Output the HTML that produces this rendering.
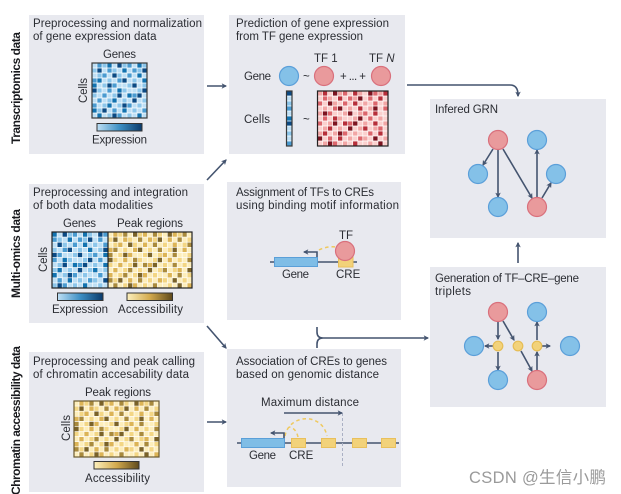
<!DOCTYPE html>
<html>
<head>
<meta charset="utf-8">
<style>
html,body{margin:0;padding:0;background:#fff;width:621px;height:494px;overflow:hidden}
svg{display:block}
text{font-family:"Liberation Sans","Noto Sans CJK SC",sans-serif;font-size:11.5px;fill:#2b2d33}
.b{font-weight:bold;font-size:12px;fill:#17181c}
.l{stroke:#44546f;stroke-width:1.6;fill:none}
.a{stroke:#44546f;stroke-width:1.6;fill:none;marker-end:url(#m)}
.d{stroke:#efc95f;stroke-width:1.5;fill:none;stroke-dasharray:3.5 3}
.cb{fill:#84c1e8;stroke:#5b9fd9;stroke-width:1.2}
.cr{fill:#e99a9c;stroke:#d9707c;stroke-width:1.2}
.cy{fill:#f2d27a;stroke:#e6bd55;stroke-width:1.2}
.h{fill:none}
</style>
</head>
<body>
<svg xmlns="http://www.w3.org/2000/svg" width="621" height="494" viewBox="0 0 621 494">
<defs>
<marker id="m" viewBox="0 0 10 10" refX="8" refY="5" markerWidth="5.500" markerHeight="5.500" orient="auto" markerUnits="userSpaceOnUse"><path d="M0 0L10 5L0 10L2.500 5Z" fill="#44546f"/></marker>
<linearGradient id="gb"><stop offset="0" stop-color="#bfe0f5"/><stop offset=".5" stop-color="#3d8fc4"/><stop offset="1" stop-color="#0a3a6b"/></linearGradient>
<linearGradient id="gy"><stop offset="0" stop-color="#fdf0bd"/><stop offset=".5" stop-color="#d3aa4e"/><stop offset="1" stop-color="#5f4a1c"/></linearGradient>
<path id="L1" fill="none" stroke-width="1" d="M2 .5h1M6 .5h1M10 .5h1M14 .5h1M0 1.500h1M4 1.500h1M9 1.500h1M16 1.500h1M1 2.500h1M5 2.500h1M11 2.500h1M15 2.500h1M3 3.500h1M8 3.500h1M12 3.500h1M2 4.500h1M7 4.500h1M10 4.500h1M16 4.500h1M1 5.500h1M6 5.500h1M9 5.500h1M14 5.500h1M0 6.500h1M4 6.500h1M11 6.500h1M15 6.500h1M3 7.500h1M6 7.500h1M10 7.500h1M13 7.500h1M2 8.500h1M5 8.500h1M9 8.500h1M16 8.500h1M1 9.500h1M8 9.500h1M11 9.500h1M15 9.500h1M3 10.500h1M7 10.500h1M12 10.500h1"/>
<path id="L2" fill="none" stroke-width="1" d="M1 .5h1M7 .5h1M13 .5h1M3 1.500h1M8 1.500h1M12 1.500h1M2 2.500h1M7 2.500h1M13 2.500h1M0 3.500h1M5 3.500h1M15 3.500h1M4 4.500h1M11 4.500h1M3 5.500h1M12 5.500h1M2 6.500h1M8 6.500h1M1 7.500h1M14 7.500h1M0 8.500h1M7 8.500h1M12 8.500h1M4 9.500h1M10 9.500h1M5 10.500h1M16 10.500h1"/>
<path id="L3" fill="none" stroke-width="1" d="M3 .5h1M9 .5h1M15 .5h1M6 1.500h1M14 1.500h1M9 2.500h1M16 2.500h1M1 3.500h1M10 3.500h1M0 4.500h1M13 4.500h1M5 5.500h1M16 5.500h1M7 6.500h1M13 6.500h1M4 7.500h1M11 7.500h1M3 8.500h1M14 8.500h1M0 9.500h1M6 9.500h1M1 10.500h1M9 10.500h1"/>
<path id="L4" fill="none" stroke-width="1" d="M5 .5h1M12 .5h1M1 1.500h1M10 1.500h1M4 2.500h1M6 3.500h1M13 3.500h1M3 4.500h1M8 4.500h1M0 5.500h1M10 5.500h1M5 6.500h1M9 6.500h1M8 7.500h1M16 7.500h1M6 8.500h1M2 9.500h1M13 9.500h1M4 10.500h1M14 10.500h1"/>
<path id="G" fill="none" stroke="#fff" stroke-width=".13" d="M1 0V11M2 0V11M3 0V11M4 0V11M5 0V11M6 0V11M7 0V11M8 0V11M9 0V11M10 0V11M11 0V11M12 0V11M13 0V11M14 0V11M15 0V11M16 0V11M0 1H17M0 2H17M0 3H17M0 4H17M0 5H17M0 6H17M0 7H17M0 8H17M0 9H17M0 10H17"/>
<g id="HB"><rect width="17" height="11" fill="#bfe0f5"/><use href="#L1" stroke="#8cc6ea"/><use href="#L2" stroke="#4a9bd0"/><use href="#L3" stroke="#1273b0"/><use href="#L4" stroke="#0b4a84"/><use href="#G"/></g>
<g id="HY"><rect width="17" height="11" fill="#fdeebb"/><use href="#L1" stroke="#f3d684"/><use href="#L2" stroke="#dcb456"/><use href="#L3" stroke="#a98a3c"/><use href="#L4" stroke="#7a6228"/><use href="#G"/></g>
<g id="HR"><rect width="17" height="11" fill="#fbd0ce"/><use href="#L1" stroke="#f2a6a5"/><use href="#L2" stroke="#dc666c"/><use href="#L3" stroke="#b72f3a"/><use href="#L4" stroke="#7c1420"/><use href="#G"/></g>
</defs>

<g fill="#e8e9ef">
<rect x="29" y="15" width="175" height="139"/>
<rect x="229" y="15" width="176" height="139"/>
<rect x="430" y="99" width="176" height="139"/>
<rect x="29" y="184" width="175" height="139"/>
<rect x="227" y="182" width="174" height="138"/>
<rect x="430" y="267" width="176" height="140"/>
<rect x="29" y="352" width="175" height="140"/>
<rect x="227" y="349" width="174" height="138"/>
</g>

<svg x="92" y="63" width="55" height="55" viewBox="0 0 11 11" preserveAspectRatio="none"><use href="#HB"/></svg>
<svg x="286.500" y="91" width="5.500" height="55" viewBox="5 0 1 11" preserveAspectRatio="none"><use href="#HB"/></svg>
<svg x="317.500" y="91" width="70.500" height="55" viewBox="2 0 14 11" preserveAspectRatio="none"><use href="#HR"/></svg>
<svg x="52" y="232" width="56" height="56" viewBox="3 0 11 11" preserveAspectRatio="none"><use href="#HB"/></svg>
<svg x="108" y="232" width="84" height="56" viewBox="0 0 17 11" preserveAspectRatio="none"><use href="#HY"/></svg>
<svg x="74" y="401" width="85" height="56" viewBox="0 0 17 11" preserveAspectRatio="none"><use href="#HY"/></svg>

<g fill="none" stroke="#3a3a3a" stroke-width="1.200">
<rect x="92" y="63" width="55" height="55"/>
<rect x="286.500" y="91" width="5.500" height="55"/>
<rect x="317.500" y="91" width="70.500" height="55" stroke="#222"/>
<rect x="52" y="232" width="140" height="56" stroke="#222"/>
<line x1="108" y1="232" x2="108" y2="288" stroke="#222"/>
<rect x="74" y="401" width="85" height="56" stroke="#6b5a30"/>
</g>
<g stroke="#333" stroke-width="1">
<rect x="97" y="123.500" width="45" height="7.500" fill="url(#gb)"/>
<rect x="57.500" y="293" width="45.500" height="7.500" fill="url(#gb)"/>
<rect x="127" y="293" width="45.500" height="7.500" fill="url(#gy)"/>
<rect x="94" y="461.500" width="45" height="7.500" fill="url(#gy)"/>
</g>

<!-- side labels -->
<text class="b" transform="translate(20,144) rotate(-90)" textLength="112">Transcriptomics data</text>
<text class="b" transform="translate(20,298) rotate(-90)" textLength="89">Multi-omics data</text>
<text class="b" transform="translate(20,495) rotate(-90)" textLength="149">Chromatin accessibility data</text>

<!-- panel 1 -->
<text x="33" y="27" textLength="169">Preprocessing and normalization</text>
<text x="33" y="40" textLength="123.500">of gene expression data</text>
<text x="103" y="58" textLength="33">Genes</text>
<text transform="translate(87,103) rotate(-90)" textLength="25">Cells</text>
<text x="92" y="143.500" textLength="55">Expression</text>

<!-- panel 2 -->
<text x="236" y="27" textLength="153">Prediction of gene expression</text>
<text x="236" y="40" textLength="127">from TF gene expression</text>
<text x="314" y="62">TF 1</text>
<text x="369" y="62">TF <tspan font-style="italic">N</tspan></text>
<text x="244" y="80" textLength="27">Gene</text>
<text x="244" y="123" textLength="26">Cells</text>
<text x="303" y="80">~</text>
<text x="303" y="123">~</text>
<text x="340" y="80" textLength="26">+ ... +</text>

<!-- GRN -->
<text x="435" y="113" textLength="63">Infered GRN</text>
<!-- triplets -->
<text x="435" y="282" textLength="144">Generation of TF–CRE–gene</text>
<text x="435" y="295" textLength="36">triplets</text>

<!-- multi -->
<text x="33" y="196" textLength="155">Preprocessing and integration</text>
<text x="33" y="209" textLength="120">of both data modalities</text>
<text x="63" y="227" textLength="33">Genes</text>
<text x="117" y="227" textLength="66">Peak regions</text>
<text transform="translate(47,272) rotate(-90)" textLength="25">Cells</text>
<text x="52" y="313" textLength="56">Expression</text>
<text x="118" y="313" textLength="65">Accessibility</text>

<!-- panel 5 -->
<text x="236" y="196" textLength="138">Assignment of TFs to CREs</text>
<text x="236" y="209" textLength="163">using binding motif information</text>
<text x="339" y="239">TF</text>
<text x="282" y="278" textLength="27">Gene</text>
<text x="336" y="278">CRE</text>

<!-- panel 7 -->
<text x="33" y="365" textLength="162">Preprocessing and peak calling</text>
<text x="33" y="378" textLength="156">of chromatin accesability data</text>
<text x="85" y="396" textLength="66">Peak regions</text>
<text transform="translate(70,441) rotate(-90)" textLength="26">Cells</text>
<text x="85" y="482" textLength="65">Accessibility</text>

<!-- panel 8 -->
<text x="236" y="365" textLength="151">Association of CREs to genes</text>
<text x="236" y="378" textLength="143">based on genomic distance</text>
<text x="261" y="406" textLength="98">Maximum distance</text>
<text x="249" y="459" textLength="27">Gene</text>
<text x="289" y="459">CRE</text>

<!-- between-panel arrows -->
<path class="a" d="M207 86H226"/>
<path class="a" d="M207 180L226 160"/>
<path class="a" d="M207 326L226 348"/>
<path class="a" d="M207 422H226"/>
<path class="a" d="M407 85H510Q518 85 518 95V96"/>
<path class="a" d="M518 263V243"/>
<path class="a" d="M323 338H428"/>
<path class="l" d="M317 327V332Q317 338 323 338Q317 338 317 344V348"/>

<!-- panel 5 drawing -->
<line class="l" x1="270" y1="262" x2="357" y2="262"/>
<rect x="274.500" y="257.500" width="43" height="9" fill="#7fbde6" stroke="#5a9fd8"/>
<rect x="338.500" y="256" width="14.500" height="11" fill="#f2d27a" stroke="#e9c05c"/>
<path class="d" d="M319 250Q327 246 336 247"/>
<path class="a" d="M317 257V252H304"/>

<!-- panel 8 drawing -->
<line class="l" x1="237" y1="443" x2="399" y2="443"/>
<line x1="342.500" y1="413" x2="342.500" y2="466" stroke="#aab0c4" stroke-width="1" stroke-dasharray="3 2"/>
<path class="a" d="M284 413H342"/>
<rect x="241.500" y="438.500" width="43" height="9" fill="#7fbde6" stroke="#5a9fd8"/>
<g fill="#f2d27a" stroke="#e9c05c">
<rect x="291.500" y="438.500" width="14" height="9"/>
<rect x="321.500" y="438.500" width="14" height="9"/>
<rect x="352.500" y="438.500" width="14" height="9"/>
<rect x="381.500" y="438.500" width="14" height="9"/>
</g>
<path class="d" d="M285 436C289 414 322 412 327 436"/>
<path class="d" d="M298 437Q296 428 289 427"/>
<path class="a" d="M284 438V433H271"/>

<!-- GRN edges -->
<path class="a" d="M493 149L483 165"/>
<path class="a" d="M498 150V197"/>
<path class="a" d="M503 149L532 198"/>
<path class="a" d="M537 197V150"/>
<path class="a" d="M542 198L551 183"/>
<!-- triplet edges -->
<path class="a" d="M498 322V339"/>
<path class="a" d="M498 352V370"/>
<path class="a" d="M493 346H485"/>
<path class="a" d="M503 321L514 340"/>
<path class="a" d="M521 351L532 371"/>
<path class="a" d="M537 370V352"/>
<path class="a" d="M537 340V322"/>
<path class="a" d="M542 346H550"/>

<!-- nodes -->
<circle class="cb" cx="289" cy="76" r="9.500"/>
<circle class="cr" cx="324" cy="76" r="9.500"/>
<circle class="cr" cx="381" cy="76" r="9.500"/>
<circle class="cr" cx="345" cy="251" r="9.500"/>
<circle class="cr" cx="498" cy="140" r="9.500"/>
<circle class="cb" cx="537" cy="140" r="9.500"/>
<circle class="cb" cx="478" cy="174" r="9.500"/>
<circle class="cb" cx="556" cy="174" r="9.500"/>
<circle class="cb" cx="498" cy="207" r="9.500"/>
<circle class="cr" cx="537" cy="207" r="9.500"/>
<circle class="cr" cx="498" cy="312" r="9.500"/>
<circle class="cb" cx="537" cy="312" r="9.500"/>
<circle class="cb" cx="474" cy="346" r="9.500"/>
<circle class="cy" cx="498" cy="346" r="4.800"/>
<circle class="cy" cx="518" cy="346" r="4.800"/>
<circle class="cy" cx="537" cy="346" r="4.800"/>
<circle class="cb" cx="570" cy="346" r="9.500"/>
<circle class="cb" cx="498" cy="380" r="9.500"/>
<circle class="cr" cx="537" cy="380" r="9.500"/>

<text x="469" y="483" style="font-size:16.500px;fill:#9a9a9a" textLength="137">CSDN @生信小鹏</text>
</svg>
</body>
</html>
